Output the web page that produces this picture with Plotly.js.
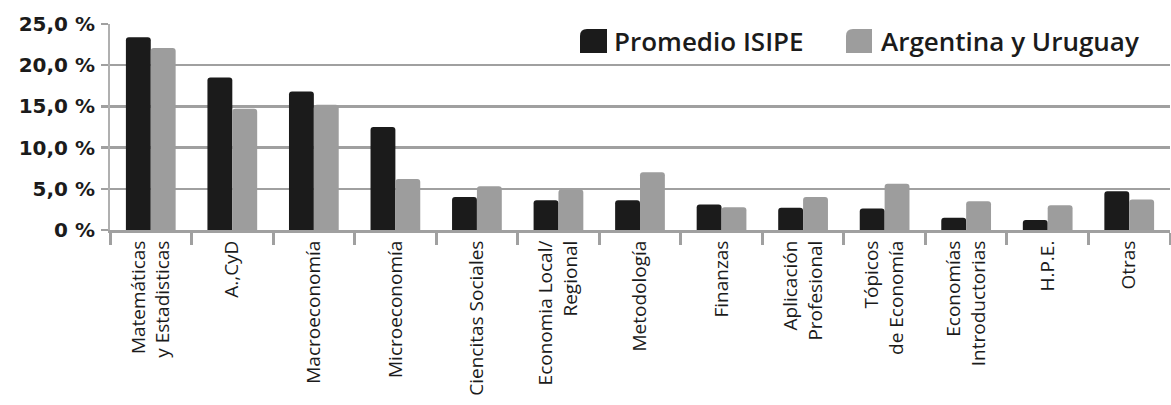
<!DOCTYPE html>
<html>
<head>
<meta charset="utf-8">
<script src="https://cdn.plot.ly/plotly-3.0.1.min.js"></script>
<style>html,body{margin:0;padding:0;background:#fff;}#chart{width:1171px;height:405px;}</style>
</head>
<body>
<div id="chart"></div>
<script>
const categories = [
  "Matemáticas<br>y Estadisticas", "A.,CyD", "Macroeconomía", "Microeconomía",
  "Ciencitas Sociales", "Economia Local/<br>Regional", "Metodología", "Finanzas",
  "Aplicación<br>Profesional", "Tópicos<br>de Economía", "Economías<br>Introductorias",
  "H.P.E.", "Otras"
];
const seriesNames = ["Promedio ISIPE", "Argentina y Uruguay"];
const promedioISIPE = [23.4, 18.5, 16.8, 12.5, 4.0, 3.6, 3.6, 3.1, 2.7, 2.6, 1.5, 1.2, 4.7];
const argentinaUruguay = [22.1, 14.7, 15.2, 6.2, 5.3, 4.9, 7.0, 2.75, 4.0, 5.6, 3.5, 3.0, 3.7];
const yTickVals = [0, 5, 10, 15, 20, 25];
const yTickText = ["0 %", "5,0 %", "10,0 %", "15,0 %", "20,0 %", "25,0 %"];

const colors = ["#1b1b1b", "#9d9d9d"];

const traces = [
  {type: "bar", name: seriesNames[0], x: categories, y: promedioISIPE,
   marker: {color: colors[0], cornerradius: 3}, showlegend: false},
  {type: "bar", name: seriesNames[1], x: categories, y: argentinaUruguay,
   marker: {color: colors[1], cornerradius: 3}, showlegend: false}
];

// custom legend (plot-area relative "paper" coords)
const L = 110, R = 1170, T = 24, B = 230;
const px = v => (v - L) / (R - L);
const py = v => (B - v) / (B - T);
function keyPath(x0p, x1p, y0p, y1p) {
  const x0 = px(x0p), x1 = px(x1p), y0 = py(y1p), y1 = py(y0p);
  const dx = 7 / (R - L), dy = 7 / (B - T);
  return `M${x0},${y0} L${x0},${y1 - dy} Q${x0},${y1} ${x0 + dx},${y1} L${x1},${y1} L${x1},${y0} Z`;
}
const shapes = [
  {type: "path", xref: "paper", yref: "paper", path: keyPath(580, 607, 29, 53),
   fillcolor: colors[0], line: {width: 0}},
  {type: "path", xref: "paper", yref: "paper", path: keyPath(846, 872, 29, 53),
   fillcolor: colors[1], line: {width: 0}}
];
const legendFont = {family: "Open Sans", size: 26, color: "#1b1b1b", weight: 600};
const annotations = [
  {xref: "paper", yref: "paper", x: px(612), y: py(41), xanchor: "left", yanchor: "middle",
   text: seriesNames[0], showarrow: false, font: legendFont},
  {xref: "paper", yref: "paper", x: px(879), y: py(41), xanchor: "left", yanchor: "middle",
   text: seriesNames[1], showarrow: false, font: legendFont}
];

const layout = {
  width: 1171, height: 405,
  margin: {l: L, r: 1171 - R, t: T, b: 405 - B},
  paper_bgcolor: "#fff", plot_bgcolor: "#fff",
  barmode: "group", bargap: 0.39, bargroupgap: 0,
  showlegend: false,
  shapes: shapes, annotations: annotations,
  font: {family: "Open Sans", color: "#1b1b1b"},
  xaxis: {type: "category", tickangle: -90, tickson: "boundaries", ticks: "outside",
          ticklen: 12, tickwidth: 3, tickcolor: "#a0a0a0", showline: true, linecolor: "#a0a0a0",
          linewidth: 3, showgrid: false, tickfont: {family: "Open Sans", size: 19, color: "#1b1b1b"},
          fixedrange: true},
  yaxis: {range: [0, 25], tickvals: yTickVals, ticktext: yTickText, showgrid: true,
          gridcolor: "#a0a0a0", gridwidth: 2.5, zeroline: false, showline: true,
          linecolor: "#b0b0b0", linewidth: 2,
          ticks: "outside", ticklen: 7, tickwidth: 2.5, tickcolor: "#a0a0a0", ticklabelstandoff: 2,
          tickfont: {family: "DejaVu Sans", size: 20, color: "#1b1b1b", weight: "bold"}, fixedrange: true}
};

Plotly.newPlot("chart", traces, layout, {displayModeBar: false, staticPlot: true});
</script>
</body>
</html>
